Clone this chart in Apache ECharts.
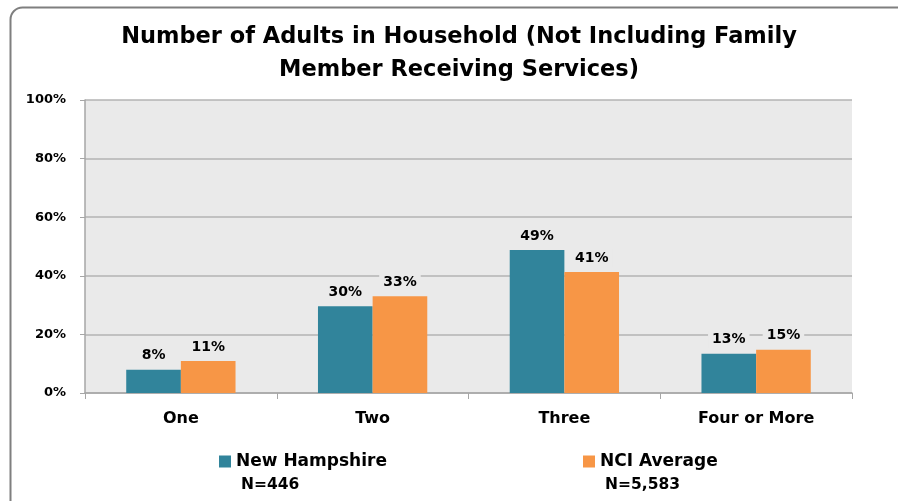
<!DOCTYPE html>
<html>
<head>
<meta charset="utf-8">
<script src="https://cdn.jsdelivr.net/npm/echarts@6/dist/echarts.min.js"></script>
<style>
  html, body { margin: 0; padding: 0; background: #fff; }
  #chart { width: 898px; height: 501px; }
</style>
</head>
<body>
<div id="chart"></div>
<script>
// categories and values
const categories = ['One', 'Two', 'Three', 'Four or More'];
const seriesNames = ['New Hampshire', 'NCI Average'];
const sampleSizes = ['N=446', 'N=5,583'];
const newHampshire = [7.9, 29.6, 48.8, 13.4];
const nciAverage = [10.9, 33.0, 41.3, 14.8];
const yTicks = [0, 20, 40, 60, 80, 100];
const chartTitle = 'Number of Adults in Household (Not Including Family\nMember Receiving Services)';

const teal = '#31849B';
const orange = '#F79646';
const plotBg = '#EAEAEA';
const font = 'DejaVu Sans';

const chart = echarts.init(document.getElementById('chart'), null, { renderer: 'canvas' });

function barSeries(name, data, color) {
  return {
    name: name,
    type: 'bar',
    data: data,
    barGap: '0%',
    barCategoryGap: '43%',
    itemStyle: { color: color },
    label: {
      show: true,
      position: 'top',
      distance: 5,
      formatter: (p) => Math.round(p.value) + '%',
      fontFamily: font,
      fontWeight: 'bold',
      fontSize: 14,
      color: '#000',
      backgroundColor: plotBg,
      padding: [2, 4]
    }
  };
}

// one legend box per series, like the original
function legendBox(name, left) {
  return {
    data: [name],
    left: left,
    top: 448,
    itemWidth: 12,
    itemHeight: 12,
    icon: 'rect',
    textStyle: { fontFamily: font, fontWeight: 'bold', fontSize: 17, color: '#000' }
  };
}

const option = {
  backgroundColor: '#fff',
  animation: false,
  legend: [legendBox(seriesNames[0], 214), legendBox(seriesNames[1], 578)],
  grid: { left: 85, right: 46, top: 100, bottom: 108, containLabel: false },
  xAxis: {
    type: 'category',
    data: categories,
    axisLine: { lineStyle: { color: '#A6A6A6', width: 1.5 } },
    axisTick: { show: true, length: 6, lineStyle: { color: '#A6A6A6' } },
    axisLabel: {
      fontFamily: font,
      fontWeight: 'bold',
      fontSize: 16,
      color: '#000',
      margin: 18
    }
  },
  yAxis: {
    type: 'value',
    min: yTicks[0],
    max: yTicks[yTicks.length - 1],
    interval: 20,
    axisLine: { show: true, lineStyle: { color: '#A6A6A6', width: 1.5 } },
    axisTick: { show: true, length: 5, lineStyle: { color: '#A6A6A6' } },
    axisLabel: {
      formatter: '{value}%',
      fontFamily: font,
      fontWeight: 'bold',
      fontSize: 13,
      color: '#000',
      margin: 19
    },
    splitLine: { lineStyle: { color: '#B3B3B3', width: 1.5 } }
  },
  graphic: [
    {
      type: 'rect',
      left: 85,
      top: 100,
      z: -10,
      shape: { width: 767, height: 293 },
      style: { fill: plotBg }
    },
    {
      type: 'rect',
      left: 8,
      top: 5,
      z: -20,
      shape: { width: 900, height: 508, r: 12 },
      style: { fill: 'none', stroke: '#7F7F7F', lineWidth: 2 }
    },
    // title sits a little right of the page centre, so place it by hand
    {
      type: 'text',
      x: 459,
      y: 21,
      style: {
        text: chartTitle,
        textAlign: 'center',
        fontFamily: font,
        fontWeight: 'bold',
        fontSize: 22.5,
        lineHeight: 33,
        fill: '#000'
      }
    },
    {
      type: 'text',
      left: 241,
      top: 477,
      style: { text: sampleSizes[0], font: 'bold 15.5px ' + font, fill: '#000' }
    },
    {
      type: 'text',
      left: 605,
      top: 477,
      style: { text: sampleSizes[1], font: 'bold 15.5px ' + font, fill: '#000' }
    }
  ],
  series: [
    barSeries(seriesNames[0], newHampshire, teal),
    barSeries(seriesNames[1], nciAverage, orange)
  ]
};

chart.setOption(option);
</script>
</body>
</html>
